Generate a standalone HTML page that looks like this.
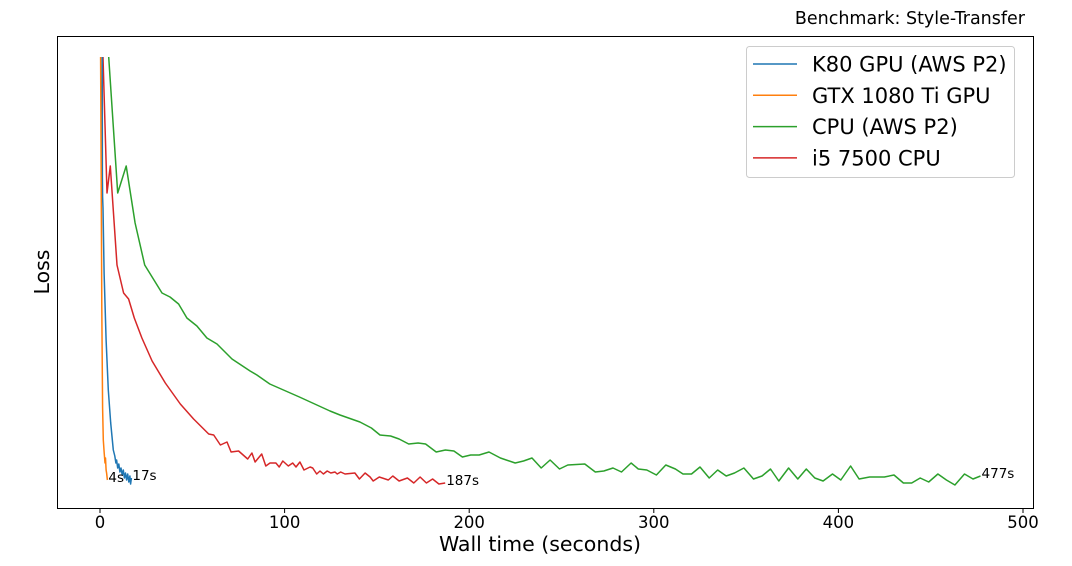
<!DOCTYPE html>
<html><head><meta charset="utf-8"><style>
body{margin:0;background:#fff;width:1072px;height:561px;overflow:hidden;font-family:"Liberation Sans","DejaVu Sans",sans-serif}
svg text{font-family:"DejaVu Sans","Liberation Sans",sans-serif;fill:#000}
</style></head><body>
<svg id="chart" width="1072" height="561" xmlns="http://www.w3.org/2000/svg">
<text x="1025" y="24" font-size="17.5" text-anchor="end">Benchmark: Style-Transfer</text>
<rect x="57.5" y="36.5" width="976" height="472" fill="#fff" stroke="#000" stroke-width="1"/>
<g id="xticks"></g>
<g id="series"></g>
<text x="540" y="551" font-size="20.5" text-anchor="middle">Wall time (seconds)</text>
<text transform="translate(49,272) rotate(-90)" font-size="20.5" text-anchor="middle">Loss</text>
<g>
<rect x="746.5" y="46.5" width="268" height="131" rx="3" fill="#fff" fill-opacity="0.8" stroke="#ccc"/>
<g id="legend-items"></g>
</g>
</svg>
<script>
const xTicks=[0,100,200,300,400,500];
const seriesNames=["K80 GPU (AWS P2)","GTX 1080 Ti GPU","CPU (AWS P2)","i5 7500 CPU"];
const seriesColors=["#1f77b4","#ff7f0e","#2ca02c","#d62728"];
const endLabels=["17s","4s","477s","187s"];
const k80=[[1.2,451],[1.3,330],[1.4,311],[1.6,300],[2.2,235],[3.3,168],[4.5,118],[5.8,85],[7.2,58],[8,52],[8.6,45],[9,48],[9.6,40],[10.2,44],[10.8,36],[11.4,40],[12,33],[12.6,38],[13.2,30],[13.8,35],[14.4,28],[15,34],[15.6,26],[16.2,32],[16.6,24],[17,30]];
const gtx=[[0.3,451],[0.6,350],[1.0,200],[1.4,100],[1.8,68],[2.3,55],[2.7,45],[3.0,50],[3.3,38],[3.6,35],[4,28]];
const cpu=[[4.7,451],[9.6,315],[14.2,342],[19,285],[24.2,243],[33.6,215],[37.9,211],[42.6,204],[47.1,190],[52.5,182],[57.9,170],[63.4,164],[71.5,149],[81.3,137],[85,133],[92,124],[108,111],[124.6,97],[130,93],[140.8,86],[147,80],
[151.7,73],[157.4,72],[162,69],[167.2,64],[172.3,65],[176.4,64],[182.1,56],[187.1,58],[191.7,57],[196.3,51],[200.8,53],[205.4,53],[210.7,56],[216.9,50],[224.9,45],[229.4,47],[234,50],[239,40],[243.8,48],[248.9,39],[253.4,43],[262.6,44],[268.3,36],[272.9,37],[277.9,40],[282.5,36],[287.7,45],[291.6,39],[296.2,38],[301.4,33],[306.5,43],[311.7,39],[315.8,34],[320.4,34],[325,41],[330,30],[334.6,38],[339.2,32],[343.7,35],[348.8,40],[354,29],[358.6,32],[363.2,39],[367.7,27],[373,40],[378,29],[382.6,39],[387.2,30],[391.7,27],[396.8,34],[401.3,28],[406.6,42],[411.2,29],[416.9,31],[424.9,31],[430.1,33],[435.2,25],[439.7,25],[444.3,30],[448.9,26],[453.9,34],[458.5,28],[463.1,23],[468.3,34],[472.9,29],[477,32]];
const i5=[[1.6,451],[3.8,315],[5.6,342],[9.2,243],[12.8,215],[15.5,209],[18.6,190],[22.7,170],[28.2,147],[35.4,125],[43.5,104],[50.7,89],[58.9,74],[61.6,73],[65.2,63],[68.8,66],[71,56],[75.1,57],[80,49],[82.3,55],[84,46],[87.6,54],[89.8,42],[92.1,45],[95.3,45],[97.1,41],[99,47],[102,42],[104.4,45],[106.2,41],[108.3,46],[110.5,38],[113.8,41],[115.2,40],[117.4,34],[119.2,37],[121,34],[123.1,37],[125,35],[127.3,36],[128.5,34],[130.4,36],[132.7,34],[138.1,35],[140.5,29],[143.6,35],[146.3,31],[148,27],[151.3,31],[156.2,28],[158.6,32],[162,27],[166.5,30],[170,25],[173.4,31],[176.8,25],[180.2,29],[183.6,24],[187,25]];
const allSeries=[k80,gtx,cpu,i5];
const xScale=t=>100+t*1.846;
const yScale=l=>508-l;
const NS="http://www.w3.org/2000/svg";
const xt=document.getElementById('xticks');
xTicks.forEach(v=>{
  const x=xScale(v);
  const l=document.createElementNS(NS,'line');
  
  
  l.setAttribute('x1',x);l.setAttribute('x2',x);l.setAttribute('y1',508.5);l.setAttribute('y2',513);l.setAttribute('stroke','#000');
  xt.appendChild(l);
  const t=document.createElementNS(NS,'text');
  
  
  t.setAttribute('x',x);t.setAttribute('y',528);t.setAttribute('font-size','16.5');t.setAttribute('text-anchor','middle');
  t.textContent=v;xt.appendChild(t);
});
const sg=document.getElementById('series');
[2,3,0,1].forEach(i=>{
  const d=allSeries[i];
  const p=document.createElementNS(NS,'polyline');
  
  
  p.setAttribute('points',d.map(q=>xScale(q[0]).toFixed(1)+','+yScale(q[1]).toFixed(1)).join(' '));
  p.setAttribute('fill','none');p.setAttribute('stroke',seriesColors[i]);p.setAttribute('stroke-width','1.5');p.setAttribute('stroke-linejoin','round');
  sg.appendChild(p);
});
allSeries.forEach((d,i)=>{
  const last=d[d.length-1];
  const t=document.createElementNS(NS,'text');
  
  
  t.setAttribute('x',xScale(last[0])+1);t.setAttribute('y',yScale(last[1])+2);t.setAttribute('font-size','13.5');
  t.textContent=endLabels[i];sg.appendChild(t);
});
const lg=document.getElementById('legend-items');
seriesNames.forEach((n,i)=>{
  const y=64+i*31.3;
  const l=document.createElementNS(NS,'line');
  
  
  l.setAttribute('x1',753);l.setAttribute('x2',797);l.setAttribute('y1',y);l.setAttribute('y2',y);l.setAttribute('stroke',seriesColors[i]);l.setAttribute('stroke-width','1.5');
  lg.appendChild(l);
  const t=document.createElementNS(NS,'text');
  
  
  t.setAttribute('x',812);t.setAttribute('y',y+7.5);t.setAttribute('font-size','21');
  t.textContent=n;lg.appendChild(t);
});
</script>
</body></html>
